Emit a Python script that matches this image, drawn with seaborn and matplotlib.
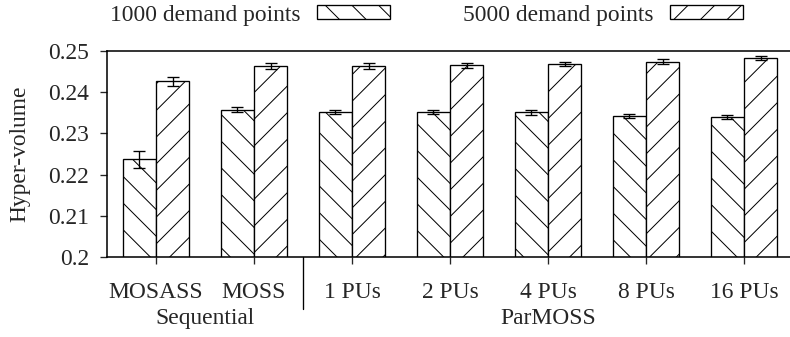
import pandas as pd
import matplotlib
matplotlib.use('Agg')
import matplotlib.pyplot as plt
import matplotlib.transforms as mtransforms
from matplotlib.patches import Patch
import seaborn as sns

# Data
methods = ['MOSASS', 'MOSS', '1 PUs', '2 PUs', '4 PUs', '8 PUs', '16 PUs']
hv_1000 = [0.2237, 0.2358, 0.2353, 0.2351, 0.2351, 0.2343, 0.2340]
hv_5000 = [0.2426, 0.2464, 0.2464, 0.2465, 0.2468, 0.2474, 0.2482]
err_1000 = [0.0021, 0.0005, 0.0005, 0.0005, 0.0006, 0.0005, 0.0005]
err_5000 = [0.0012, 0.0007, 0.0007, 0.0006, 0.0005, 0.0006, 0.0005]
series = ['1000 demand points', '5000 demand points']
hatches = ['\\\\', '//']
yticks = [0.2, 0.21, 0.22, 0.23, 0.24, 0.25]
ytick_labels = ['0.2', '0.21', '0.22', '0.23', '0.24', '0.25']

sns.set_style('ticks')
plt.rcParams['font.family'] = ['Liberation Serif', 'DejaVu Serif']
plt.rcParams['font.size'] = 10.6
plt.rcParams['hatch.linewidth'] = 0.45
plt.rcParams['hatch.color'] = 'black'

df = pd.DataFrame({
    'method': methods * 2,
    'hv': hv_1000 + hv_5000,
    'err': err_1000 + err_5000,
    'series': [series[0]] * len(methods) + [series[1]] * len(methods),
})

DPI = 160
fig = plt.figure(figsize=(790 / DPI, 337 / DPI), dpi=DPI)
ax = fig.add_axes([107 / 790, 80 / 337, 683 / 790, 206 / 337])

sns.barplot(data=df, x='method', y='hv', hue='series', order=methods,
            hue_order=series, width=0.68, errorbar=None, legend=False,
            palette=['white', 'white'],
            edgecolor='black', linewidth=0.6, ax=ax)

for cont, h, s in zip(ax.containers, hatches, series):
    sub = df[df['series'] == s].set_index('method').loc[methods]
    xs = []
    for bar in cont:
        bar.set_hatch(h)
        bar.set_facecolor('white')
        bar.set_edgecolor('black')
        xs.append(bar.get_x() + bar.get_width() / 2)
    ax.errorbar(xs, sub['hv'].values, yerr=sub['err'].values, fmt='none',
                ecolor='black', elinewidth=0.6, capsize=2.8, capthick=0.6)

ax.set_ylim(0.2, 0.25)
ax.set_xlim(-0.5, 6.47)
ax.set_yticks(yticks)
ax.set_yticklabels(ytick_labels)
ax.set_xlabel('')
ax.set_ylabel('Hyper-volume', labelpad=8)
ax.tick_params(direction='out', length=3.2, width=0.6)
ax.tick_params(axis='y', pad=5)
ax.tick_params(axis='x', pad=8)
for side in ['left', 'bottom', 'top']:
    ax.spines[side].set_linewidth(0.7)
    ax.spines[side].set_color('black')
ax.spines['right'].set_visible(False)

# separator between groups and group labels
trans = mtransforms.blended_transform_factory(ax.transData, ax.transAxes)
ax.plot([1.5, 1.5], [0, -0.25], transform=trans, color='black', lw=0.6,
        clip_on=False)
ax.text(0.5, -0.30, 'Sequential', transform=trans, ha='center', va='center')
ax.text(4, -0.30, 'ParMOSS', transform=trans, ha='center', va='center')

handles = [Patch(facecolor='white', edgecolor='black', hatch=h, linewidth=0.6)
           for h in hatches]
fig.legend(handles, series, loc='center', bbox_to_anchor=(0.54, 0.955),
           ncol=2, frameon=False, markerfirst=False, handlelength=3.1,
           handleheight=0.55, handletextpad=0.7, columnspacing=3.1)

fig.savefig('out.png', dpi=DPI)
